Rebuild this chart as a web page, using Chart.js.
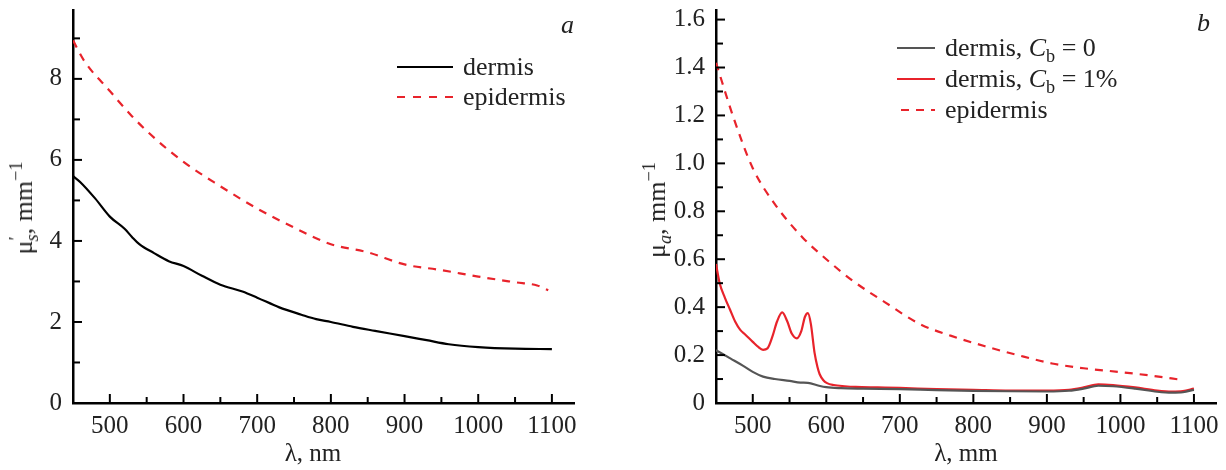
<!DOCTYPE html>
<html>
<head>
<meta charset="utf-8">
<script src="https://cdn.jsdelivr.net/npm/chart.js@4.4.1/dist/chart.umd.min.js"></script>
<style>
  body { margin: 0; background: #fff; }
  #wrap { position: relative; width: 1226px; height: 470px; font-family: "Liberation Serif", "Times New Roman", serif; color: #222; }
  canvas { position: absolute; top: 0; }
  .lbl { position: absolute; white-space: nowrap; font-size: 26px; line-height: 1; }
  .row { position: absolute; display: flex; align-items: center; height: 30px; font-size: 26px; white-space: nowrap; }
  .row svg { margin-right: 10px; flex: none; }
  .ytitle { position: absolute; white-space: nowrap; font-size: 26px; line-height: 1; transform: translate(-50%, -50%) rotate(-90deg); }
  .xtitle { position: absolute; white-space: nowrap; font-size: 25px; line-height: 1; transform: translate(-50%, -50%); }
  sub, sup { font-size: 70%; line-height: 0; }
</style>
</head>
<body>
<div id="wrap">
  <canvas id="chartA" width="600" height="470" style="left:0;width:600px;height:470px"></canvas>
  <canvas id="chartB" width="626" height="470" style="left:600px;width:626px;height:470px"></canvas>

  <div class="ytitle" style="left:24px;top:208px">μ<sup>′</sup><sub style="margin-left:-5px"><i>s</i></sub>, mm<sup>−1</sup></div>
  <div class="xtitle" style="left:313px;top:452px">λ, nm</div>
  <div class="lbl" style="left:561px;top:12px"><i>a</i></div>
  <div class="row" style="left:397px;top:52px">
    <svg width="56" height="4"><line x1="0" y1="2" x2="56" y2="2" stroke="#000" stroke-width="2.2"/></svg><span>dermis</span></div>
  <div class="row" style="left:397px;top:82px">
    <svg width="56" height="4"><line x1="0" y1="2" x2="56" y2="2" stroke="#e8232b" stroke-width="2.2" stroke-dasharray="8 8"/></svg><span>epidermis</span></div>

  <div class="ytitle" style="left:657px;top:210px">μ<sub><i>a</i></sub>, mm<sup>−1</sup></div>
  <div class="xtitle" style="left:966px;top:452px">λ, mm</div>
  <div class="lbl" style="left:1197px;top:10px"><i>b</i></div>
  <div class="row" style="left:897px;top:33px">
    <svg width="38" height="4"><line x1="0" y1="2" x2="38" y2="2" stroke="#555" stroke-width="2.2"/></svg><span>dermis, <i>C</i><sub>b</sub> = 0</span></div>
  <div class="row" style="left:897px;top:64px">
    <svg width="38" height="4"><line x1="0" y1="2" x2="38" y2="2" stroke="#e8232b" stroke-width="2.2"/></svg><span>dermis, <i>C</i><sub>b</sub> = 1%</span></div>
  <div class="row" style="left:897px;top:95px">
    <svg width="38" height="4"><line x1="0" y1="2" x2="38" y2="2" stroke="#e8232b" stroke-width="2.2" stroke-dasharray="8 7" stroke-dashoffset="-4"/></svg><span>epidermis</span></div>
</div>

<script>
// tick positions (labels only on the even ones)
const xTicks = [500, 550, 600, 650, 700, 750, 800, 850, 900, 950, 1000, 1050, 1100];
const yTicksA = [0, 1, 2, 3, 4, 5, 6, 7, 8, 9];
const yTicksB = [0, 0.1, 0.2, 0.3, 0.4, 0.5, 0.6, 0.7, 0.8, 0.9, 1.0, 1.1, 1.2, 1.3, 1.4, 1.5, 1.6];

// panel a: reduced scattering coefficient, mm^-1
const lamDermisA = [450, 460, 480, 500, 520, 530, 540, 560, 580, 600, 625, 650, 680, 700, 730, 760, 780, 800, 830, 860, 900, 930, 960, 1000, 1050, 1100];
const dermisA = [5.6, 5.45, 5.05, 4.6, 4.3, 4.1, 3.92, 3.7, 3.5, 3.38, 3.14, 2.92, 2.75, 2.6, 2.36, 2.18, 2.07, 2.0, 1.88, 1.78, 1.65, 1.55, 1.45, 1.38, 1.34, 1.33];
const lamEpiA = [450, 465, 500, 530, 560, 600, 650, 700, 750, 800, 850, 900, 950, 1000, 1050, 1080, 1095];
const epidermisA = [8.95, 8.45, 7.7, 7.08, 6.55, 5.95, 5.35, 4.8, 4.33, 3.92, 3.72, 3.42, 3.28, 3.12, 2.98, 2.9, 2.78];

// panel b: absorption coefficient, mm^-1
const lamEpiB = [450, 475, 500, 530, 568, 600, 636, 680, 727, 770, 818, 860, 907, 950, 997, 1040, 1085];
const epidermisB = [1.42, 1.18, 0.98, 0.83, 0.69, 0.6, 0.51, 0.42, 0.33, 0.28, 0.235, 0.2, 0.165, 0.145, 0.13, 0.115, 0.096];
const lamBlood = [450, 455, 462, 469, 476, 483, 490, 500, 507, 514, 520, 527, 533, 540, 547, 553, 560, 566, 571, 575, 579, 584, 588, 591, 596, 601, 610, 625, 640, 670, 700, 750, 800, 850, 900, 930, 950, 970, 990, 1020, 1050, 1070, 1085, 1100];
const dermisBlood = [0.58, 0.5, 0.44, 0.39, 0.34, 0.305, 0.285, 0.255, 0.235, 0.222, 0.228, 0.28, 0.34, 0.378, 0.34, 0.29, 0.27, 0.3, 0.36, 0.375, 0.33, 0.21, 0.15, 0.12, 0.095, 0.083, 0.075, 0.07, 0.067, 0.065, 0.063, 0.058, 0.055, 0.052, 0.052, 0.055, 0.065, 0.078, 0.075, 0.065, 0.052, 0.048, 0.05, 0.06];
const lamNoBlood = [450, 470, 487, 500, 514, 530, 550, 565, 575, 590, 600, 620, 650, 700, 750, 800, 850, 900, 930, 950, 970, 990, 1020, 1050, 1070, 1085, 1100];
const dermisNoBlood = [0.22, 0.185, 0.155, 0.13, 0.11, 0.1, 0.092, 0.085, 0.084, 0.072, 0.066, 0.062, 0.06, 0.058, 0.054, 0.051, 0.049, 0.048, 0.051, 0.06, 0.072, 0.07, 0.06, 0.047, 0.043, 0.045, 0.055];

const RED = "#e8232b";

Chart.defaults.font.family = '"Liberation Serif", "Times New Roman", serif';
Chart.defaults.font.size = 25;
Chart.defaults.color = "#222";

function pts(xs, ys) {
    return xs.map((x, i) => ({ x, y: ys[i] }));
}

function line(label, xs, ys, color, dashed) {
    return {
        label,
        data: pts(xs, ys),
        borderColor: color,
        borderWidth: 2.2,
        borderDash: dashed ? [8, 7] : [],
        pointRadius: 0,
        cubicInterpolationMode: "monotone",
        fill: false,
    };
}

// ticks point into the plot, so draw them ourselves from the scale positions
const inwardTicks = {
    id: "inwardTicks",
    afterDatasetsDraw(chart, args, opts) {
        const { ctx, chartArea } = chart;
        ctx.save();
        ctx.strokeStyle = "#000";
        ctx.lineWidth = 2;
        const xs = chart.scales.x;
        for (const t of xs.ticks) {
            const px = xs.getPixelForValue(t.value);
            const len = t.value % 100 === 0 ? 9 : 6;
            ctx.beginPath();
            ctx.moveTo(px, chartArea.bottom);
            ctx.lineTo(px, chartArea.bottom - len);
            ctx.stroke();
        }
        const ys = chart.scales.y;
        for (const t of ys.ticks) {
            const k = Math.round(t.value / opts.minor);
            if (k === 0) continue;
            const py = ys.getPixelForValue(t.value);
            const len = k % 2 === 0 ? 9 : 7;
            ctx.beginPath();
            ctx.moveTo(chartArea.left, py);
            ctx.lineTo(chartArea.left + len, py);
            ctx.stroke();
        }
        ctx.restore();
    },
};

function xScale() {
    return {
        type: "linear",
        min: 450,
        max: 1130,
        afterBuildTicks: s => { s.ticks = xTicks.map(v => ({ value: v })); },
        ticks: {
            padding: 8,
            maxRotation: 0,
            autoSkip: false,
            callback: v => (v % 100 === 0 ? String(v) : ""),
        },
        grid: { drawOnChartArea: false, drawTicks: false },
        border: { color: "#000", width: 2.5 },
        afterFit: s => { s.height = 67; s.paddingLeft = 0; s.paddingRight = 0; },
    };
}

function yScale(max, tickList, width, fmt) {
    return {
        type: "linear",
        min: 0,
        max,
        afterBuildTicks: s => { s.ticks = tickList.map(v => ({ value: v })); },
        ticks: { padding: 11, autoSkip: false, callback: fmt },
        grid: { drawOnChartArea: false, drawTicks: false },
        border: { color: "#000", width: 2.5 },
        afterFit: s => { s.width = width; s.paddingTop = 0; s.paddingBottom = 0; },
    };
}

new Chart(document.getElementById("chartA"), {
    type: "line",
    data: {
        datasets: [
            line("dermis", lamDermisA, dermisA, "#000", false),
            line("epidermis", lamEpiA, epidermisA, RED, true),
        ],
    },
    options: {
        responsive: false,
        animation: false,
        layout: { padding: { top: 10, right: 26, left: 0, bottom: 0 } },
        plugins: { legend: { display: false }, tooltip: { enabled: false }, inwardTicks: { minor: 1 } },
        scales: {
            x: xScale(),
            y: yScale(9.7, yTicksA, 73, v => (v % 2 === 0 ? String(v) : "")),
        },
    },
    plugins: [inwardTicks],
});

new Chart(document.getElementById("chartB"), {
    type: "line",
    data: {
        datasets: [
            line("dermis, Cb = 0", lamNoBlood, dermisNoBlood, "#555", false),
            line("dermis, Cb = 1%", lamBlood, dermisBlood, RED, false),
            line("epidermis", lamEpiB, epidermisB, RED, true),
        ],
    },
    options: {
        responsive: false,
        animation: false,
        layout: { padding: { top: 10, right: 10, left: 0, bottom: 0 } },
        plugins: { legend: { display: false }, tooltip: { enabled: false }, inwardTicks: { minor: 0.1 } },
        scales: {
            x: xScale(),
            y: yScale(1.64, yTicksB, 116, v => {
                const k = Math.round(v * 10);
                if (k % 2 !== 0) return "";
                return k === 0 ? "0" : (k / 10).toFixed(1);
            }),
        },
    },
    plugins: [inwardTicks],
});
</script>
</body>
</html>
